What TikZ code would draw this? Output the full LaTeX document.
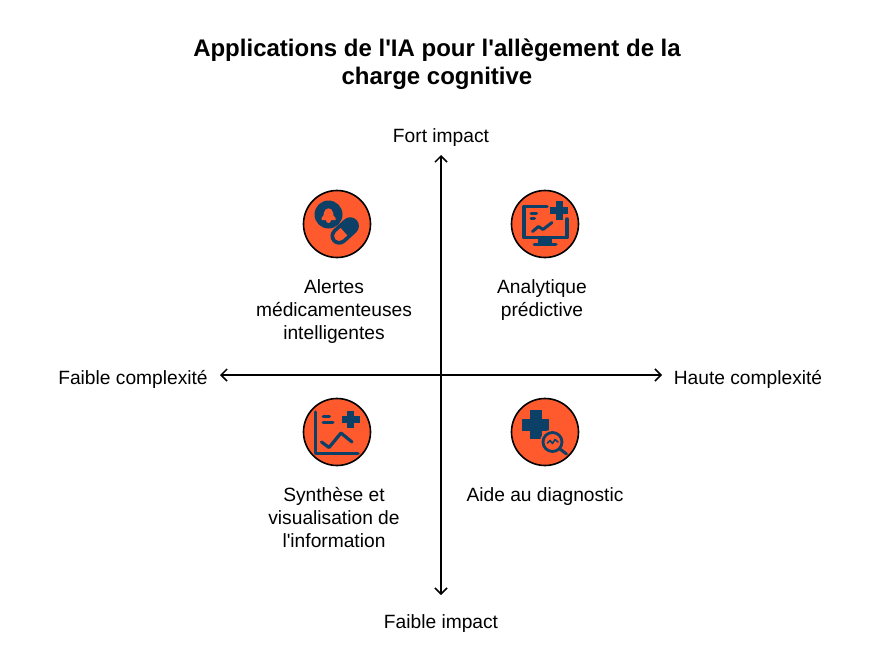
\documentclass[tikz,border=0pt]{standalone}
\usepackage{fontspec}
\setmainfont{Liberation Sans}[Ligatures=TeXOff]
\usetikzlibrary{positioning,arrows.meta}
\definecolor{iconfill}{HTML}{FF5A2E}
\definecolor{icondark}{HTML}{0D4066}
\tikzset{
  axis/.style={draw=black,line width=1.5pt,{Straight Barb[length=6pt,width=12pt,line width=1.5pt]}-{Straight Barb[length=6pt,width=12pt,line width=1.5pt]}},
  badge/.style={circle,draw=black,line width=1.6pt,fill=iconfill,minimum size=67pt,inner sep=0pt},
  label/.style={align=center,font=\fontsize{19.2}{23}\selectfont,inner sep=0pt},
  ink/.style={draw=icondark,line width=#1,line cap=round,line join=round},
  ink/.default=3pt
}
\begin{document}
\begin{tikzpicture}[x=1pt,y=-1pt]
  \useasboundingbox (0,0) rectangle (873,653);
  \node[align=center,font=\fontsize{24}{28}\selectfont\bfseries,inner sep=0pt] (title) at (437,64) {Applications de l'IA pour l'allègement de la\\charge cognitive};

  % axes
  \coordinate (top) at (441,155);
  \coordinate (bottom) at (441,595);
  \coordinate (left) at (220,375);
  \coordinate (right) at (662,375);
  \draw[axis] (bottom) -- (top);
  \draw[axis] (left) -- (right);
  \node[label] (fort impact) at (441,137.5) {Fort impact};
  \node[label] (faible impact) at (441,623.5) {Faible impact};
  \node[label] (faible complexite) at (133,379.5) {Faible complexité};
  \node[label] (haute complexite) at (748,379.5) {Haute complexité};

  % badges
  \node[badge] (alertes) at (337,224) {};
  \node[badge] (analytique) at (545,224) {};
  \node[badge] (synthese) at (337,432) {};
  \node[badge] (aide) at (545,432) {};

  \node[label,below=55.5pt of alertes.center,anchor=north,xshift=-3pt] (alertes text) {Alertes\\médicamenteuses\\intelligentes};
  \node[label,below=55.5pt of analytique.center,anchor=north,xshift=-3pt] (analytique text) {Analytique\\prédictive};
  \node[label,below=55.5pt of synthese.center,anchor=north,xshift=-3pt] (synthese text) {Synthèse et\\visualisation de\\l'information};
  \node[label,below=55.5pt of aide.center,anchor=north] (aide text) {Aide au diagnostic};

  % bell and capsule
  \begin{scope}[shift={(alertes.center)}]
    \fill[icondark] (-8.5,-9.5) circle (14);
    \fill[iconfill] (-15.5,-4) -- (-15.5,-6) .. controls (-13,-7) and (-13.5,-10) .. (-13,-11.5) .. controls (-12,-17) and (-5,-17) .. (-4,-11.5) .. controls (-3.5,-10) and (-4,-7) .. (-1.5,-6) -- (-1.5,-4) -- cycle;
    \fill[iconfill] (-8.5,-3.5) circle (2.5);
    \draw[ink=17.5pt] (2.2,12) -- (13.2,2);
    \begin{scope}[shift={(7.7,7)},rotate=42]
      \fill[iconfill] (-1,-5) -- (-1,5) -- (-7.5,5) arc (90:270:5) -- cycle;
    \end{scope}
  \end{scope}

  % monitor
  \begin{scope}[shift={(analytique.center)}]
    \draw[ink=3.5pt] (2,-17.5) -- (-21,-17.5) -- (-21,13.5) -- (22,13.5) -- (22,-5);
    \fill[icondark] (-7,13) rectangle (7,19.5);
    \draw[ink=3pt] (-11,20.5) -- (11,20.5);
    \draw[ink=3pt] (-14,-11) -- (-8.5,-11);
    \draw[ink=3pt] (-14,-5.5) -- (-10.5,-5.5);
    \draw[ink=3pt] (-12.5,7.5) -- (-6.5,2.5) -- (-2,5.5) -- (7,-1.5);
    \fill[icondark] (10.5,-23) rectangle (17.5,-4.5);
    \fill[icondark] (5,-17.3) rectangle (23,-10.3);
  \end{scope}

  % chart
  \begin{scope}[shift={(synthese.center)}]
    \draw[ink=3.5pt] (-21.5,-20) -- (-21.5,21.5) -- (21,21.5);
    \draw[ink=3pt] (-14,-16) -- (-7.5,-16);
    \draw[ink=3pt] (-14,-10) -- (-4,-10);
    \draw[ink=3.2pt] (-15.5,10) -- (-8,15.5) -- (4,1) -- (15,10);
    \fill[icondark] (10.2,-21.5) rectangle (17.2,-4);
    \fill[icondark] (5,-16.2) rectangle (22.5,-9.2);
  \end{scope}

  % cross and magnifier
  \begin{scope}[shift={(aide.center)}]
    \fill[icondark] (-15,-22.5) rectangle (-3.5,7);
    \fill[icondark] (-23,-13) rectangle (4,-1.5);
    \fill[iconfill] (7.5,10) circle (12.5);
    \draw[ink=2.8pt] (7.5,10) circle (9.5);
    \draw[ink=1.6pt] (2.5,11) -- (5,8.5) -- (7.5,11.5) -- (10,7.5) -- (13,10);
    \draw[ink=3pt] (15,17) -- (21.5,22);
  \end{scope}
\end{tikzpicture}
\end{document}
